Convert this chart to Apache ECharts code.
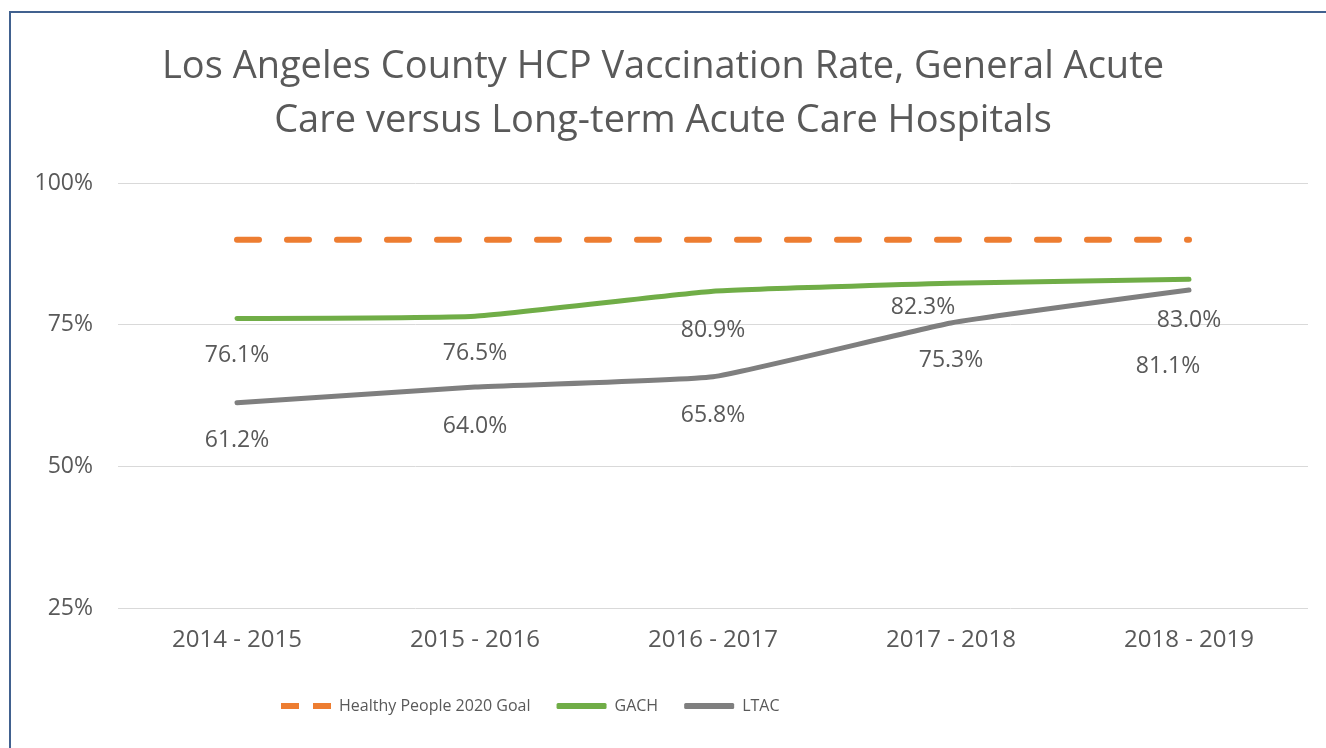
<!DOCTYPE html>
<html>
<head>
<meta charset="utf-8">
<title>LA County HCP Vaccination Rate</title>
<script src="https://cdn.jsdelivr.net/npm/echarts@6/dist/echarts.min.js"></script>
<style>
    html, body { margin: 0; padding: 0; background: #fff; }
    #frame {
        position: absolute; left: 9px; top: 11px;
        width: 1317px; height: 737px;
        border-top: 2px solid #41618f; border-left: 2px solid #41618f;
        box-sizing: border-box;
    }
    #chart { position: absolute; left: 0; top: 0; width: 1326px; height: 748px; }
</style>
</head>
<body>
<div id="frame"></div>
<div id="chart"></div>
<script>
var seasons = ['2014 - 2015', '2015 - 2016', '2016 - 2017', '2017 - 2018', '2018 - 2019'];
var goal = [90, 90, 90, 90, 90];
var gach = [76.1, 76.5, 80.9, 82.3, 83.0];
var ltac = [61.2, 64.0, 65.8, 75.3, 81.1];

var textColor = '#595959';
var font = 'Open Sans';

// label nudges as Excel placed them
var gachNudge = [[0, 0], [0, 0], [0, 2], [-28, -13], [0, 4]];
var ltacNudge = [[0, 0], [0, 2], [0, 1], [0, 0], [-21, 39]];

function labelled(values, nudge) {
    return values.map(function (v, i) {
        return { value: v, label: { offset: nudge[i] } };
    });
}

function pct(p) {
    return p.value.toFixed(1) + '%';
}

var myChart = echarts.init(document.getElementById('chart'));
var option = {
    animation: false,
    title: {
        text: 'Los Angeles County HCP Vaccination Rate, General Acute\nCare versus Long-term Acute Care Hospitals',
        left: 'center',
        top: 35,
        textStyle: {
            color: textColor, fontFamily: font, fontWeight: 'normal',
            fontSize: 38, lineHeight: 54
        }
    },
    legend: {
        bottom: 29,
        left: 276,
        itemWidth: 50,
        itemHeight: 6,
        itemGap: 26,
        textStyle: { color: textColor, fontFamily: font, fontSize: 16, padding: [0, 0, 0, 3] },
        data: [
            { name: 'Healthy People 2020 Goal', icon: 'path://M0,0h18v6h-18z M32,0h18v6h-18z' },
            { name: 'GACH', icon: 'roundRect' },
            { name: 'LTAC', icon: 'roundRect' }
        ]
    },
    grid: { left: 118, right: 18, top: 183, bottom: 140 },
    xAxis: {
        type: 'category',
        data: seasons,
        boundaryGap: true,
        axisLine: { show: false },
        axisTick: { show: false },
        axisLabel: { color: textColor, fontFamily: font, fontSize: 24, margin: 20 }
    },
    yAxis: {
        type: 'value',
        min: 25,
        max: 100,
        interval: 25,
        axisLine: { show: false },
        axisTick: { show: false },
        splitLine: { lineStyle: { color: '#d9d9d9', width: 1 } },
        axisLabel: {
            color: textColor, fontFamily: font, fontSize: 23, margin: 25,
            formatter: '{value}%'
        }
    },
    series: [
        {
            name: 'Healthy People 2020 Goal',
            type: 'line',
            data: goal,
            symbol: 'none',
            itemStyle: { color: '#ed7d31' },
            lineStyle: { color: '#ed7d31', width: 6, type: [22, 28], cap: 'round' }
        },
        {
            name: 'GACH',
            type: 'line',
            data: labelled(gach, gachNudge),
            smooth: 0.12,
            symbol: 'circle',
            symbolSize: 0,
            itemStyle: { color: '#70ad47' },
            lineStyle: { color: '#70ad47', width: 5, cap: 'round' },
            label: {
                show: true, position: 'bottom', distance: 26,
                color: textColor, fontFamily: font, fontSize: 23,
                formatter: pct
            }
        },
        {
            name: 'LTAC',
            type: 'line',
            data: labelled(ltac, ltacNudge),
            smooth: 0.12,
            symbol: 'circle',
            symbolSize: 0,
            itemStyle: { color: '#7f7f7f' },
            lineStyle: { color: '#7f7f7f', width: 5, cap: 'round' },
            label: {
                show: true, position: 'bottom', distance: 26,
                color: textColor, fontFamily: font, fontSize: 23,
                formatter: pct
            }
        }
    ]
};
myChart.setOption(option);
</script>
</body>
</html>
